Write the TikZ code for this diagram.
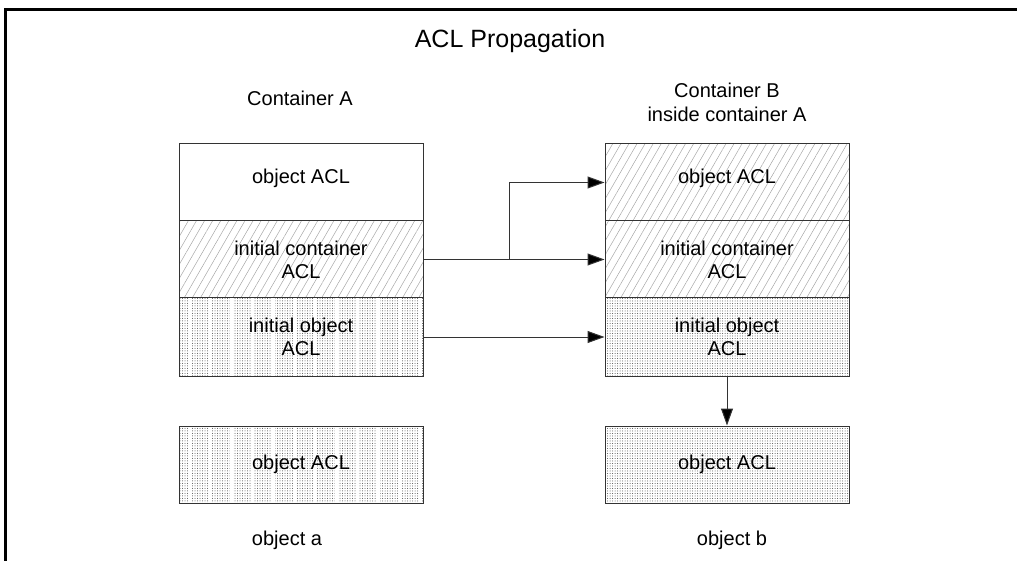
\documentclass[tikz,border=0pt]{standalone}
\usepackage{fontspec}
\setmainfont{Liberation Sans}
\usetikzlibrary{arrows.meta,patterns.meta}
\begin{document}
\begin{tikzpicture}[x=1pt,y=-1pt,
  every node/.style={font=\fontsize{20}{23}\selectfont},
  row/.style={draw=black!80,line width=1pt,minimum width=244pt,inner sep=0pt,align=center},
  raised/.style={text height=15pt,text depth=12.5pt},
  hatchfill/.style={preaction={pattern={Lines[angle=60,distance=7pt,line width=0.5pt]},pattern color=black!35}},
  dotfill/.style={preaction={pattern={Dots[radius=0.5pt,distance=2.5pt]},pattern color=black!70}},
  stripefill/.style={dotfill,preaction={pattern={Lines[angle=90,distance=21pt,line width=3pt]},pattern color=white}},
  lbl/.style={anchor=base},
  arr/.style={draw=black!80,line width=1pt,-{Triangle[length=17pt,width=12pt,fill=black]}}
]
\useasboundingbox (0,0) rectangle (1017,561);
\draw[line width=3pt] (5.5,561) -- (5.5,9.5) -- (1017,9.5);

\node[lbl,font=\fontsize{25}{28}\selectfont] (title) at (510,48) {ACL Propagation};
\node[lbl] (contA) at (300,106) {Container A};
\node[lbl] (contB) at (727,98) {Container B};
\node[lbl] (contB2) at (727,122) {inside container A};

% left stack
\node[row,minimum height=77pt,raised] (ltop) at (301,182.5) {object ACL};
\node[row,minimum height=77pt,hatchfill] (lmid) at (301,259.5) {initial container\\ACL};
\node[row,minimum height=78pt,stripefill] (lbot) at (301,337) {initial object\\ACL};

% right stack
\node[row,minimum height=77pt,hatchfill,raised] (rtop) at (727,182.5) {object ACL};
\node[row,minimum height=77pt,hatchfill] (rmid) at (727,259.5) {initial container\\ACL};
\node[row,minimum height=78pt,dotfill] (rbot) at (727,337) {initial object\\ACL};

% lower boxes
\node[row,minimum height=77pt,stripefill] (obja) at (301,464.5) {object ACL};
\node[row,minimum height=77pt,dotfill] (objb) at (727,464.5) {object ACL};

\node[lbl] (la) at (287,545) {object a};
\node[lbl] (lb) at (732,545) {object b};

% connectors
\coordinate (br) at (509,259.5);
\draw[arr] (lmid.east) -- (rmid.west);
\draw[arr] (br) |- (rtop.west);
\draw[arr] (lbot.east) -- (rbot.west);
\draw[arr] (rbot.south) -- (objb.north);
\end{tikzpicture}
\end{document}
